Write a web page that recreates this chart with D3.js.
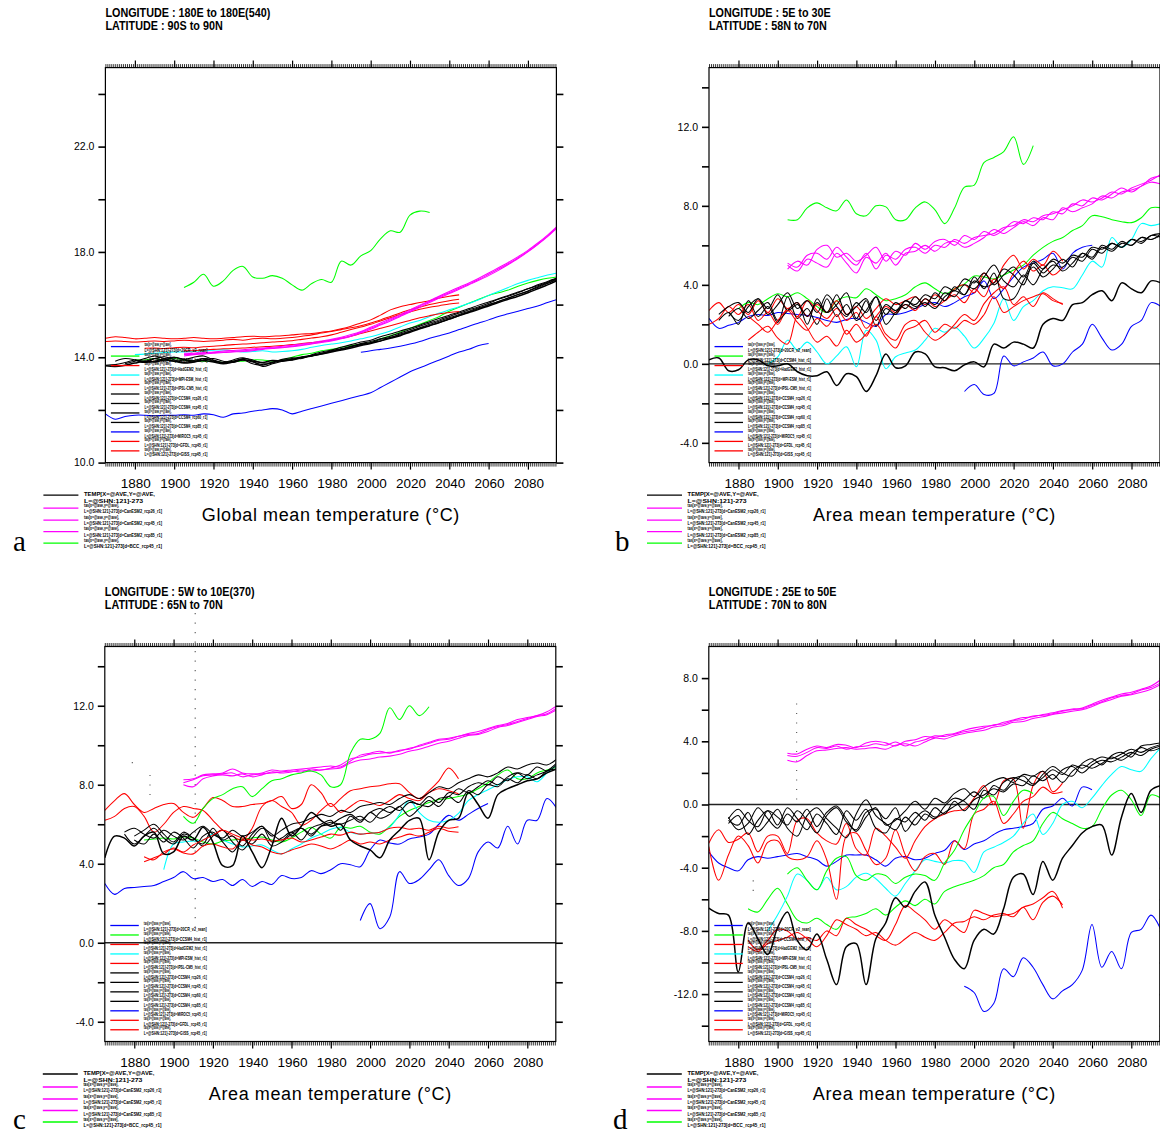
<!DOCTYPE html>
<html><head><meta charset="utf-8">
<script src="https://cdn.jsdelivr.net/npm/d3@7"></script>
<style>body{margin:0;background:#fff}svg{display:block}</style>
</head><body><svg id="chart" width="1160" height="1135"></svg>
<script>
// ---------- shared data ----------
const seriesColors = ["#0000ff","#00ff00","#ff0000","#00ffff","#ff0000","#000000","#000000","#000000","#000000","#0000ff","#ff0000","#ff0000","#000000","#ff00ff","#ff00ff","#ff00ff","#00ff00"];
const yearDomain = [1865, 2094.5];
const yearStep = 5;
const xTickLabels = [1880,1900,1920,1940,1960,1980,2000,2020,2040,2060,2080];
const legendLine1 = ["tas[x=@ave,y=@ave],","tas[x=@ave,y=@ave],","tas[x=@ave,y=@ave],","tas[x=@ave,y=@ave],","tas[x=@ave,y=@ave],","tas[x=@ave,y=@ave],","tas[x=@ave,y=@ave],","tas[x=@ave,y=@ave],","tas[x=@ave,y=@ave],","tas[x=@ave,y=@ave],","tas[x=@ave,y=@ave],","tas[x=@ave,y=@ave],","TEMP[X=@AVE,Y=@AVE,","tas[x=@ave,y=@ave],","tas[x=@ave,y=@ave],","tas[x=@ave,y=@ave],","tas[x=@ave,y=@ave],"];
const legendLine2 = ["L=@SHN:121]-273[d=20CR_v2_rean]","L=@SHN:121]-273[d=CCSM4_hist_r1]","L=@SHN:121]-273[d=HadGEM2_hist_r1]","L=@SHN:121]-273[d=MPI-ESM_hist_r1]","L=@SHN:121]-273[d=IPSL-CM5_hist_r1]","L=@SHN:121]-273[d=CCSM4_rcp26_r1]","L=@SHN:121]-273[d=CCSM4_rcp45_r1]","L=@SHN:121]-273[d=CCSM4_rcp60_r1]","L=@SHN:121]-273[d=CCSM4_rcp85_r1]","L=@SHN:121]-273[d=MIROC5_rcp45_r1]","L=@SHN:121]-273[d=GFDL_rcp45_r1]","L=@SHN:121]-273[d=GISS_rcp45_r1]","L=@SHN:121]-273","L=@SHN:121]-273[d=CanESM2_rcp26_r1]","L=@SHN:121]-273[d=CanESM2_rcp45_r1]","L=@SHN:121]-273[d=CanESM2_rcp85_r1]","L=@SHN:121]-273[d=BCC_rcp45_r1]"];

// ---------- panel a ----------
const aHeader = ["LONGITUDE : 180E to 180E(540)","LATITUDE : 90S to 90N"];
const aTitle = "Global mean temperature (°C)";
const aYDomain = [10,25];
const aYTicks = [10,12,14,16,18,20,22,24];
const aYLabels = [10,14,18,22];
const aStart = [1865,1880,1865,1880,1865,1865,1870,1875,1880,1995,1885,1905,1865,1905,1905,1905,1905];
const aS0 = [11.85,11.65,11.75,11.8,11.8,11.78,11.8,11.8,11.82,11.8, 11.85,11.82,11.72,11.85,11.88,11.95,12.0,12.05,12.0,11.85, 11.95,12.05,12.15,12.25,12.35,12.45,12.55,12.65,12.85,13.05, 13.25,13.45,13.6,13.75,13.9,14.05,14.2,14.3,14.45,14.52];
const aS1 = [13.9,13.9,13.95,13.9,13.95,13.9,13.85,13.85,13.85,13.8, 13.85,13.85,13.9,13.9,13.85,13.9,14.0,14.1,14.15,14.25, 14.3,14.38,14.45,14.5,14.55,14.7,14.82,14.95,15.1,15.25, 15.4,15.55,15.75,15.9,16.05,16.2,16.35,16.45,16.55,16.7, 16.82,16.92,17.0,17.05];
const aS2 = [14.72,14.78,14.75,14.7,14.72,14.75,14.72,14.7,14.72,14.75, 14.72,14.7,14.72,14.75,14.78,14.8,14.78,14.8,14.82,14.85, 14.88,14.9,14.95,15.0,15.08,15.18,15.3,15.42,15.6,15.8, 15.92,16.0,16.08,16.15,16.25,16.32,16.37];
const aS3 = [14.1,14.12,14.15,14.18,14.2,14.2,14.22,14.25,14.27,14.28, 14.25,14.2,14.22,14.25,14.2,14.22,14.25,14.3,14.38,14.45, 14.5,14.55,14.62,14.7,14.78,14.88,15.0,15.15,15.3,15.4, 15.55,15.68,15.8,15.92,16.05,16.18,16.35,16.5,16.65,16.8, 16.92,17.02,17.12,17.2];
const aS4 = [14.6,14.62,14.6,14.58,14.6,14.62,14.6,14.62,14.65,14.62, 14.6,14.62,14.65,14.68,14.65,14.7,14.72,14.7,14.72,14.75, 14.8,14.85,14.92,14.98,15.05,15.12,15.2,15.3,15.42,15.55, 15.68,15.8,15.9,16.0,16.08,16.15,16.2];
const aS5 = [13.7,13.72,13.8,13.9,13.85,13.95,13.9,14.0,13.92,13.85, 13.9,13.95,13.85,13.8,13.9,13.75,13.7,13.82,13.88,13.95, 14.02,14.08,14.15,14.25,14.33,14.42,14.5,14.55,14.68,14.75, 14.88,15.0,15.12,15.25,15.38,15.5,15.62,15.75,15.88,16.0, 16.12,16.25,16.38,16.5,16.65,16.8,16.95];
const aS6 = [13.85,13.95,13.9,13.8,13.95,14.02,13.9,13.8,13.88,13.95, 13.85,13.8,13.9,13.98,13.85,13.65,13.75,13.85,13.9,14.0, 14.05,14.15,14.25,14.3,14.4,14.52,14.6,14.7,14.8,14.92, 15.05,15.18,15.3,15.42,15.55,15.68,15.8,15.92,16.05,16.2, 16.32,16.45,16.6,16.72,16.85,17.0];
const aS7 = [13.75,13.85,13.95,14.05,13.95,13.85,13.9,14.0,14.05,13.9, 13.8,13.85,13.95,13.9,13.78,13.8,13.92,13.98,13.95,14.1, 14.2,14.28,14.38,14.48,14.58,14.65,14.78,14.88,15.0,15.1, 15.22,15.35,15.48,15.6,15.72,15.85,15.98,16.1,16.22,16.35, 16.48,16.6,16.75,16.88,17.02];
const aS8 = [13.9,13.8,13.85,13.95,14.0,13.9,13.82,13.95,13.88,13.78, 13.85,13.92,13.82,13.72,13.78,13.88,13.92,14.0,14.05,14.12, 14.22,14.3,14.4,14.48,14.55,14.62,14.75,14.85,14.98,15.1, 15.2,15.32,15.45,15.58,15.72,15.85,15.98,16.12,16.25,16.38, 16.52,16.68,16.82,16.98];
const aS9 = [14.19,14.25,14.3,14.35,14.42,14.5,14.6,14.72,14.82,14.92, 15.05,15.18,15.3,15.42,15.55,15.65,15.75,15.85,15.95,16.08, 16.2];
const aS10 = [14.34,14.35,14.33,14.36,14.38,14.36,14.4,14.42,14.45,14.48, 14.5,14.52,14.55,14.58,14.6,14.63,14.68,14.73,14.78,14.85, 14.95,15.05,15.15,15.25,15.38,15.5,15.62,15.72,15.82,15.9, 15.96,16.02,16.06];
const aS11 = [14.25,14.25,14.28,14.3,14.32,14.33,14.35,14.38,14.4,14.42, 14.45,14.48,14.52,14.56,14.6,14.65,14.72,14.8,14.9,15.0, 15.1,15.2,15.3,15.4,15.5,15.58,15.65,15.7,15.74];
const aS12 = [13.68,13.65,13.7,13.78,13.85,13.82,13.9,13.85,13.78,13.82, 13.88,13.82,13.75,13.82,13.9,13.85,13.8,13.88,13.85,13.9, 13.98,14.05,14.12,14.2,14.28,14.35,14.45,14.52,14.62,14.72, 14.82,14.95,15.08,15.2,15.32,15.45,15.58,15.7,15.82,15.95, 16.08,16.2,16.32,16.45,16.6,16.75,16.92];
const aS13 = [14.1,14.12,14.15,14.18,14.2,14.22,14.25,14.28,14.32,14.35, 14.38,14.42,14.47,14.52,14.58,14.65,14.72,14.82,14.95,15.1, 15.25,15.42,15.58,15.75,15.95,16.12,16.3,16.45,16.62,16.78, 16.95,17.15,17.35,17.55,17.78,18.02,18.3,18.6,18.95];
const aS14 = [14.05,14.1,14.12,14.15,14.18,14.2,14.22,14.25,14.3,14.33, 14.36,14.4,14.45,14.5,14.56,14.62,14.7,14.8,14.92,15.06, 15.22,15.38,15.55,15.72,15.9,16.08,16.25,16.42,16.58,16.75, 16.92,17.1,17.3,17.52,17.75,18.0,18.28,18.58,18.92];
const aS15 = [14.15,14.15,14.18,14.2,14.24,14.26,14.28,14.32,14.35,14.38, 14.42,14.46,14.5,14.55,14.62,14.68,14.76,14.86,14.98,15.14, 15.3,15.46,15.62,15.8,15.98,16.15,16.33,16.5,16.66,16.82, 17.0,17.2,17.4,17.6,17.82,18.06,18.34,18.64,18.98];
const aS16 = [16.65,16.85,17.15,16.7,16.9,17.3,17.45,17.05,17.0,17.1, 17.0,16.75,16.55,16.8,16.95,16.85,17.65,17.5,17.85,18.05, 18.5,18.8,18.75,19.4,19.55,19.5];

// ---------- panel b ----------
const bHeader = ["LONGITUDE : 5E to 30E","LATITUDE : 58N to 70N"];
const bTitle = "Area mean temperature (°C)";
const bYDomain = [-5,15];
const bYTicks = [-4,-2,0,2,4,6,8,10,12,14];
const bYLabels = [-4,0,4,8,12];
const bStart = [1865,1880,1865,1895,1865,1870,1870,1875,1875,1995,1885,1885,1865,1905,1905,1905,1905];
const bS0 = [2.3,1.8,1.95,2.1,2.4,2.5,2.45,2.6,2.55,2.5, 2.45,2.35,2.2,2.1,2.25,2.3,2.1,1.9,2.5,2.5, 2.6,2.8,3.0,3.1,2.9,3.1,3.4,3.6,4.2,3.3, 3.8,4.4,4.9,5.1,5.3,5.6,4.8,5.6,5.9,6.0];
const bS1 = [2.8,3.1,3.0,3.3,3.55,3.4,3.6,3.3,2.9,2.6, 3.2,3.4,3.35,3.8,3.5,3.2,3.3,3.5,3.9,4.1, 3.8,3.55,3.8,4.05,4.45,4.4,4.3,4.5,4.75,5.0, 5.5,5.9,6.2,6.4,6.75,7.0,7.5,7.45,7.3,7.2, 7.15,7.4,7.9,7.9];
const bS2 = [2.7,3.1,2.6,3.0,2.5,3.2,2.6,3.3,2.8,3.1, 2.4,3.0,2.6,3.2,2.5,2.9,2.3,2.8,3.3,3.0, 3.2,3.4,3.0,3.5,3.2,3.8,4.0,3.6,4.6,4.1, 5.0,5.5,4.8,5.3,5.0,5.7,5.2];
const bS3 = [0.0,0.35,1.2,0.7,1.1,0.6,0.0,0.4,0.86,-0.15, 1.7,1.2,-0.25,0.36,0.55,0.7,1.2,1.8,1.6,1.87, 1.4,0.8,1.3,2.06,3.3,2.2,2.9,3.2,3.7,3.9, 3.85,3.8,4.5,5.2,4.9,6.4,5.9,6.3,7.1,7.0, 7.1];
const bS4 = [2.0,2.3,2.9,2.5,3.0,2.2,2.6,2.0,2.8,2.4, 3.2,2.7,2.3,2.8,2.2,2.6,1.8,2.4,2.9,2.6, 3.0,2.7,3.3,2.9,3.2,3.5,3.1,3.8,3.4,4.3, 3.8,4.6,5.2,4.7,5.0,4.5,4.9];
const bS5 = [2.5,2.9,3.1,2.6,3.3,2.8,3.5,2.7,3.0,2.4, 3.1,2.6,3.5,2.5,2.9,3.3,2.2,3.0,2.7,3.2, 3.0,3.5,3.3,3.9,3.7,4.3,4.1,4.6,4.0,4.5, 4.9,4.4,5.2,4.8,5.3,5.1,5.5,5.4,5.9,5.8, 6.1,5.9,6.3,6.2,6.5,6.6];
const bS6 = [2.2,2.6,2.0,3.2,2.4,2.9,2.1,3.4,2.3,2.8, 2.0,3.3,2.4,3.0,2.2,2.7,3.4,2.5,3.1,2.8, 3.4,2.9,3.6,3.2,3.9,3.5,4.4,3.8,4.6,3.3, 3.3,4.2,4.9,4.4,4.8,5.3,4.9,5.6,5.3,5.9, 5.7,6.1,6.0,6.4,6.3,6.5];
const bS7 = [2.6,2.2,2.9,3.3,2.5,3.0,3.6,2.8,3.2,2.6, 3.5,2.9,2.4,3.1,2.6,3.4,2.0,2.6,3.0,2.8, 3.3,3.0,3.6,3.4,4.0,3.8,4.4,5.0,4.2,3.9, 4.5,4.0,4.8,5.2,4.7,5.1,5.6,5.4,6.0,5.8, 6.2,6.0,6.4,6.3,6.6];
const bS8 = [2.4,2.8,2.3,2.7,3.1,2.2,2.7,3.1,2.0,3.3, 2.6,3.0,3.6,2.3,3.2,1.9,2.8,2.5,3.2,2.9, 3.1,2.8,3.4,3.7,3.5,4.2,3.9,4.1,4.8,4.5, 4.0,5.1,4.6,5.0,4.9,5.4,5.2,5.8,5.6,6.1, 5.9,6.3,6.1,6.5,6.4];
const bS9 = [-1.4,-1.05,-1.55,-1.5,0.4,-0.1,0.1,0.3,0.6,-0.1, 0.0,0.6,1.0,2.0,1.3,0.7,1.0,1.9,2.2,3.1, 2.9];
const bS10 = [1.2,1.6,1.9,1.3,1.0,2.4,1.8,1.1,1.4,0.9, 1.7,1.1,1.5,2.0,1.3,0.8,1.7,1.9,2.2,1.6, 2.0,1.8,2.2,2.0,2.5,3.4,2.6,2.9,3.2,3.4, 3.55,3.2,3.05];
const bS11 = [2.4,2.0,1.6,2.2,2.7,2.1,1.7,2.3,1.9,2.5, 1.5,2.0,1.4,2.4,1.5,1.2,2.0,2.2,1.6,1.2, 1.5,2.0,2.5,2.2,3.05,3.6,3.9,3.0,3.4,2.9, 3.6,3.3,3.0];
const bS12 = [0.2,0.3,-0.35,-0.3,0.2,0.2,-0.1,-0.1,0.0,-0.4, -0.6,-0.6,-0.4,-1.1,-0.5,-0.65,-1.4,-0.6,0.5,-0.2, -0.1,0.6,0.5,-0.15,-0.2,-0.35,-0.05,0.1,-0.15,1.0, 0.8,1.1,1.0,0.8,2.0,2.3,2.2,3.0,3.1,3.5, 3.7,3.2,4.1,3.8,3.6,4.2,4.1];
const bS13 = [5.1,4.9,5.5,5.6,5.3,5.9,5.4,5.0,5.6,4.8, 5.5,5.3,5.8,5.9,5.6,6.0,5.9,6.3,6.1,6.4, 6.5,6.6,6.9,7.0,7.3,7.2,7.5,7.6,7.8,8.0, 8.3,8.2,8.4,8.7,8.6,8.9,9.1,9.3,9.6];
const bS14 = [4.8,5.2,5.0,5.8,6.0,5.4,5.6,5.2,5.5,5.9, 5.2,5.7,5.5,6.1,5.8,6.2,6.3,6.0,6.5,6.3, 6.7,6.5,6.8,7.2,7.1,7.4,7.3,7.7,7.6,8.1, 8.0,8.4,8.3,8.6,8.9,8.7,9.0,9.2,9.1];
const bS15 = [5.0,4.7,5.3,5.1,4.9,5.6,5.1,4.6,5.4,5.1, 5.6,5.0,5.6,5.7,6.0,5.7,6.1,6.2,5.9,6.1, 6.4,6.8,6.6,6.9,7.2,7.0,7.4,7.3,7.9,7.7, 7.9,8.1,8.5,8.4,8.7,8.8,9.0,9.4,9.5];
const bS16 = [7.3,7.3,7.9,8.15,7.9,7.75,8.3,7.6,7.5,8.0, 7.95,7.3,7.3,7.9,8.2,7.8,7.1,7.9,8.95,9.05, 10.2,10.45,10.75,11.5,10.1,11.05];

// ---------- panel c ----------
const cHeader = ["LONGITUDE : 5W to 10E(370)","LATITUDE : 65N to 70N"];
const cTitle = "Area mean temperature (°C)";
const cYDomain = [-5,15];
const cYTicks = [-4,-2,0,2,4,6,8,10,12,14];
const cYLabels = [-4,0,4,8,12];
const cStart = [1865,1885,1865,1895,1865,1875,1875,1880,1880,1995,1885,1885,1865,1905,1905,1905,1905];
const cS0 = [3.0,2.45,2.75,2.8,2.85,2.9,3.1,3.3,3.6,3.25, 3.3,3.1,3.2,2.9,3.2,2.85,3.1,2.95,3.4,3.25, 3.3,3.65,3.5,3.7,4.0,3.95,3.85,4.7,5.2,5.05, 5.0,5.25,5.35,5.5,6.0,6.45,6.2,6.5,6.8,7.05];
const cS1 = [5.2,5.25,5.3,5.25,5.35,5.3,5.1,5.0,5.15,5.2, 5.25,5.3,5.35,5.2,5.1,5.3,5.6,5.85,5.5,5.3, 5.85,5.8,5.9,5.6,5.5,5.9,6.4,6.7,6.9,7.1, 7.25,7.3,7.4,7.55,7.8,8.1,8.5,8.75,8.3,8.3, 8.6,8.75,8.9];
const cS2 = [6.7,7.2,7.55,7.0,6.6,6.8,7.0,7.05,6.6,6.35, 6.8,7.35,7.2,6.9,6.9,7.0,7.05,7.2,7.4,6.8, 7.0,8.0,7.6,6.9,7.3,7.7,7.8,7.9,7.95,8.05, 8.05,7.6,7.3,7.7,8.2,8.85,8.3];
const cS3 = [3.7,5.0,5.1,5.15,5.2,5.5,5.2,5.0,4.85,4.9, 4.95,4.7,4.5,4.75,5.0,5.3,5.5,5.75,5.85,5.6, 5.5,5.55,5.6,5.85,6.5,7.2,6.6,6.2,6.1,6.2, 6.55,7.2,7.5,7.75,8.0,8.25,8.4,8.4,8.15,8.6, 9.0];
const cS4 = [6.2,6.4,6.8,6.9,6.4,5.6,6.0,6.6,6.9,6.8, 6.7,6.2,5.7,5.4,5.2,5.8,6.9,7.2,6.9,6.6, 5.95,6.2,6.7,7.05,6.6,6.9,7.2,7.1,6.95,7.2, 7.5,7.3,7.2,7.6,7.8,7.7,7.55];
const cS5 = [5.6,5.8,5.5,5.3,5.7,5.4,5.2,5.6,5.9,5.5, 5.3,5.7,5.4,5.6,5.9,5.4,5.7,6.0,6.1,6.3, 6.5,6.4,6.7,6.6,6.9,7.0,7.1,7.0,7.3,7.5, 7.3,7.6,7.9,7.8,8.1,8.3,8.5,8.4,8.6,8.9, 8.8,9.0,9.1,9.0,9.3];
const cS6 = [5.5,5.0,5.4,5.8,5.3,5.0,5.5,5.3,4.9,5.4, 5.7,5.1,4.7,5.3,5.8,5.5,5.2,5.6,5.8,5.5, 5.9,6.0,6.3,6.5,6.2,6.6,6.8,6.6,6.9,7.2, 7.0,7.4,7.1,7.6,7.5,7.9,8.1,8.0,8.4,8.2, 8.6,8.5,8.9,8.7,9.0];
const cS7 = [5.4,5.7,6.0,5.5,5.1,5.6,5.3,5.0,5.8,5.2, 5.4,4.9,5.5,5.9,5.1,5.3,5.6,5.2,5.8,6.0, 6.2,5.7,6.4,6.1,6.6,6.3,6.5,6.9,6.4,6.8, 7.2,6.9,7.4,7.1,7.7,7.5,8.0,7.9,8.3,8.1, 8.5,8.3,8.7,8.8];
const cS8 = [5.2,5.0,5.5,5.1,5.6,5.3,4.8,5.4,5.6,5.1, 4.6,5.2,5.0,5.5,4.9,5.1,5.5,5.8,5.4,5.9, 6.1,6.0,6.2,6.4,6.1,6.6,6.9,6.7,7.1,7.0, 6.9,7.3,7.4,7.8,7.6,7.9,8.2,8.0,8.4,8.6, 8.3,8.5,8.7,9.1];
const cS9 = [1.13,1.98,0.71,1.3,3.6,3.0,3.2,3.7,4.2,3.4, 2.9,3.25,4.6,5.1,4.8,5.9,5.0,6.2,6.2,7.3, 6.8];
const cS10 = [4.35,4.2,4.6,4.75,4.55,4.5,4.9,5.0,4.85,4.75, 5.2,4.95,4.85,4.6,4.5,4.7,4.85,5.0,4.9,4.75, 4.95,5.2,5.0,5.1,5.0,5.2,5.35,5.5,5.4,5.6, 5.8,5.65,5.6];
const cS11 = [4.1,4.3,4.5,4.8,4.6,4.95,5.2,5.45,5.7,5.5, 5.3,5.2,5.25,5.15,5.2,5.3,5.1,5.2,5.35,5.5, 5.45,5.6,5.5,5.55,5.6,5.8,5.85,5.75,5.8,5.7, 5.9,5.8,5.87];
const cS12 = [4.3,5.4,5.3,4.9,5.4,5.6,4.5,4.6,5.4,5.2, 5.85,5.1,3.9,3.9,5.4,4.6,3.8,4.9,6.3,5.4, 5.9,6.6,6.2,5.9,6.0,5.2,4.9,4.7,4.3,5.2, 5.7,6.2,6.3,4.2,5.6,6.2,6.3,7.6,7.0,6.3, 7.5,7.8,8.0,8.2,8.3,8.6,8.8];
const cS13 = [8.25,8.3,8.5,8.55,8.6,8.8,8.6,8.55,8.6,8.75, 8.7,8.75,8.8,8.85,8.9,8.95,8.9,9.2,9.5,9.6, 9.7,9.6,9.75,9.8,10.0,10.15,10.3,10.35,10.45,10.6, 10.7,10.85,11.0,11.1,11.3,11.4,11.5,11.7,12.0];
const cS14 = [8.1,8.25,8.45,8.5,8.55,8.6,8.4,8.5,8.55,8.6, 8.65,8.7,8.65,8.8,8.75,8.85,9.0,9.3,9.4,9.55, 9.6,9.65,9.7,9.85,9.95,10.1,10.25,10.3,10.45,10.55, 10.6,10.8,10.95,11.05,11.2,11.35,11.5,11.6,11.9];
const cS15 = [8.0,7.9,8.3,8.45,8.5,8.45,8.55,8.4,8.5,8.65, 8.6,8.65,8.75,8.7,8.75,8.8,8.85,9.1,9.25,9.3, 9.4,9.45,9.55,9.7,9.8,9.95,10.1,10.2,10.35,10.5, 10.55,10.7,10.9,11.0,11.15,11.3,11.45,11.55,11.8];
const cS16 = [6.4,6.05,6.8,7.3,7.5,7.8,7.9,7.4,7.8,8.2, 8.3,8.5,8.6,8.7,8.5,7.9,8.0,9.6,10.3,10.3, 10.6,11.9,11.3,12.0,11.5,11.95];
const cDots = [[1911,16.7,0.8],[1888,8.5,7.2],[1879,9.15,9.0]];

// ---------- panel d ----------
const dHeader = ["LONGITUDE : 25E to 50E","LATITUDE : 70N to 80N"];
const dTitle = "Area mean temperature (°C)";
const dYDomain = [-15,10];
const dYTicks = [-14,-12,-10,-8,-6,-4,-2,0,2,4,6,8];
const dYLabels = [-12,-8,-4,0,4,8];
const dStart = [1865,1885,1865,1895,1865,1875,1875,1875,1875,1995,1885,1885,1865,1905,1905,1905,1905];
const dS0 = [-3.0,-3.7,-4.0,-4.2,-3.5,-3.3,-3.4,-3.3,-3.2,-3.1, -3.3,-3.5,-3.9,-3.6,-3.2,-3.2,-3.2,-3.5,-3.9,-3.4, -3.3,-3.5,-3.4,-3.1,-2.9,-2.3,-2.85,-2.5,-2.3,-1.9, -1.6,-1.5,-1.4,-1.2,-0.3,-0.1,0.4,-0.1,1.1,0.93];
const dS1 = [-6.6,-6.8,-6.0,-5.3,-6.3,-7.3,-7.5,-7.2,-7.6,-7.9, -7.2,-7.1,-6.9,-6.6,-7.0,-6.5,-6.1,-6.4,-6.0,-6.3, -5.5,-5.2,-5.0,-4.8,-4.5,-4.0,-3.8,-3.0,-2.6,-2.3, -1.2,-0.5,-0.9,-1.2,-1.5,-1.4,-0.3,0.6,0.9,0.3, -0.7,0.6,0.4];
const dS2 = [-2.45,-1.6,-2.4,-2.2,-1.8,-3.0,-2.0,-2.0,-3.1,-1.0, -0.9,-1.8,-2.3,-2.5,-1.2,-2.8,-3.2,-1.5,-2.0,-2.7, -3.4,-2.3,-1.4,-0.9,-0.6,-0.4,-0.3,0.4,1.2,0.0, 1.5,1.6,-1.5,1.2,2.1,0.8,1.35];
const dS3 = [-8.0,-7.0,-5.8,-4.4,-4.8,-5.4,-4.6,-5.4,-5.2,-4.6, -4.35,-4.7,-5.3,-5.8,-5.0,-4.2,-3.5,-3.6,-3.7,-3.55, -3.6,-4.3,-3.0,-2.7,-2.4,-2.0,-1.2,-0.6,-1.9,-1.2, 0.0,0.2,-0.2,0.4,1.2,1.9,2.4,2.2,2.1,2.9, 3.6];
const dS4 = [-2.66,-4.8,-3.2,-2.0,-2.6,-3.7,-2.4,-2.3,-3.3,-3.5, -3.3,-2.3,-3.5,-6.0,-2.0,-1.8,-2.9,-3.8,-3.4,-1.6, -3.2,-4.2,-3.3,-3.1,-3.8,-2.3,-2.8,-0.6,-0.3,0.2, -1.2,-0.6,0.2,0.5,1.1,0.7,0.8];
const dS5 = [-0.8,-1.6,-1.2,-0.2,-0.9,-1.5,-0.6,-1.1,-0.3,-1.4, -0.5,-0.1,-0.9,-1.7,-0.8,-0.2,-1.3,-1.0,-0.4,0.2, -0.3,0.4,0.1,0.7,1.0,0.5,1.1,1.5,1.7,1.4, 1.9,1.8,2.1,1.6,2.2,2.4,2.0,2.5,2.8,2.7, 3.0,3.3,3.1,3.5,3.7];
const dS6 = [-1.2,-0.7,-1.9,-1.0,-0.4,-1.3,-0.2,-0.9,-1.6,-0.6, -1.2,-1.9,-0.4,-1.0,-0.3,-1.5,-1.8,-0.9,-1.1,-0.5, -1.0,-0.2,-0.6,0.2,-0.4,0.3,0.6,1.0,0.8,1.3, 1.2,1.8,1.5,1.9,1.4,2.1,2.5,2.3,2.6,3.0, 2.8,3.2,3.6,3.4,3.6];
const dS7 = [-1.0,-1.3,-0.5,-1.7,-1.1,-0.3,-1.5,-2.0,-0.7,-0.2, -0.9,-1.5,-2.1,-0.6,0.3,-0.7,-1.2,-1.6,-0.8,-1.3, -0.6,-0.9,-0.1,0.4,0.2,-0.3,0.9,0.6,1.4,1.7, 1.5,1.2,1.9,2.4,2.0,1.8,2.6,2.9,2.5,3.1, 3.3,3.0,3.7,3.8,3.9];
const dS8 = [-0.9,-0.3,-1.0,-1.4,-0.4,-0.8,-1.3,-0.4,-1.0,-1.8, -0.7,-0.2,-1.1,-1.6,-0.5,-0.3,-0.9,-0.2,-1.7,-0.9, -0.4,-0.8,-0.5,-0.1,0.3,0.8,0.4,1.2,0.9,1.6, 1.8,1.3,1.7,2.2,1.9,2.5,2.3,2.7,3.0,2.9, 3.2,3.5,3.3,3.6,3.8];
const dS9 = [-11.5,-11.9,-13.1,-12.6,-10.4,-10.9,-9.7,-10.3,-11.4,-12.3, -11.8,-11.4,-10.5,-7.6,-10.3,-9.3,-10.4,-8.1,-7.9,-7.0, -7.9];
const dS10 = [-8.6,-9.2,-8.6,-7.9,-8.0,-8.5,-8.4,-8.6,-8.0,-8.3, -7.2,-7.6,-7.9,-8.3,-8.6,-7.6,-6.4,-6.8,-7.3,-7.9, -7.3,-7.7,-8.1,-6.7,-6.9,-7.1,-7.0,-6.9,-6.5,-6.3, -5.9,-5.5,-6.56];
const dS11 = [-9.0,-9.3,-8.8,-8.6,-8.4,-8.1,-8.5,-9.0,-8.3,-7.3, -7.6,-7.9,-8.3,-8.1,-8.6,-8.9,-8.5,-8.1,-8.4,-8.6, -8.1,-7.5,-7.4,-7.1,-7.3,-7.0,-6.9,-7.1,-6.5,-7.3, -6.2,-5.8,-6.35];
const dS12 = [-6.56,-6.9,-7.0,-10.6,-7.5,-8.5,-9.5,-7.8,-6.8,-8.6, -9.2,-8.2,-9.8,-11.4,-9.0,-8.8,-11.4,-8.5,-7.5,-5.9, -6.5,-5.5,-4.9,-7.0,-8.4,-9.8,-10.4,-8.6,-7.9,-8.2, -6.6,-4.6,-4.4,-5.7,-3.6,-4.8,-3.4,-2.6,-1.8,-1.4, -1.3,-3.2,-0.8,0.7,-0.5,0.9,1.2];
const dS13 = [3.25,3.2,3.5,3.7,3.6,3.8,3.75,3.6,3.9,4.0, 3.9,3.7,4.0,4.1,4.3,4.25,4.4,4.5,4.7,4.85, 4.95,5.0,5.2,5.35,5.5,5.55,5.7,5.8,5.95,6.0, 6.1,6.35,6.6,6.8,7.0,7.1,7.3,7.5,7.9];
const dS14 = [3.1,3.05,3.3,3.6,3.55,3.7,3.5,3.65,3.7,3.85, 3.75,3.95,3.7,3.95,4.1,4.35,4.3,4.45,4.6,4.7, 4.85,5.05,5.1,5.3,5.4,5.6,5.65,5.75,5.9,6.05, 6.05,6.3,6.5,6.75,6.9,7.0,7.25,7.4,7.7];
const dS15 = [2.8,2.7,3.1,3.4,3.45,3.55,3.6,3.5,3.55,3.6, 3.5,3.75,3.85,3.7,3.95,4.2,4.15,4.35,4.5,4.6, 4.7,4.9,5.0,5.2,5.25,5.45,5.55,5.7,5.8,5.9, 6.0,6.2,6.45,6.65,6.85,6.95,7.1,7.3,7.6];
const dS16 = [-4.4,-4.0,-4.8,-5.4,-4.2,-3.4,-3.3,-4.5,-4.8,-4.4, -4.5,-5.0,-4.6,-4.4,-4.5,-4.8,-3.7,-2.9,-1.6,-0.6, 0.4,0.5,-0.7,0.2,0.9,0.7];
const dDots = [[1909.7,6.4,0.3],[1887.6,-4.8,-5.6]];

// ---------- drawing ----------
const svg = d3.select("#chart");
const PW = 451, PH = 395;
const panels = [
  {id:"a", left:105.4, top:67.6, header:aHeader, title:aTitle, yDomain:aYDomain, yTicks:aYTicks, yLabels:aYLabels, starts:aStart,
   series:[aS0,aS1,aS2,aS3,aS4,aS5,aS6,aS7,aS8,aS9,aS10,aS11,aS12,aS13,aS14,aS15,aS16], dots:[], letterX:13, letterY:551, zero:false},
  {id:"b", left:709, top:67.6, header:bHeader, title:bTitle, yDomain:bYDomain, yTicks:bYTicks, yLabels:bYLabels, starts:bStart,
   series:[bS0,bS1,bS2,bS3,bS4,bS5,bS6,bS7,bS8,bS9,bS10,bS11,bS12,bS13,bS14,bS15,bS16], dots:[], letterX:615, letterY:551, zero:true},
  {id:"c", left:104.8, top:646.5, header:cHeader, title:cTitle, yDomain:cYDomain, yTicks:cYTicks, yLabels:cYLabels, starts:cStart,
   series:[cS0,cS1,cS2,cS3,cS4,cS5,cS6,cS7,cS8,cS9,cS10,cS11,cS12,cS13,cS14,cS15,cS16], dots:cDots, letterX:13, letterY:1128.5, zero:true},
  {id:"d", left:708.8, top:646.5, header:dHeader, title:dTitle, yDomain:dYDomain, yTicks:dYTicks, yLabels:dYLabels, starts:dStart,
   series:[dS0,dS1,dS2,dS3,dS4,dS5,dS6,dS7,dS8,dS9,dS10,dS11,dS12,dS13,dS14,dS15,dS16], dots:dDots, letterX:613, letterY:1128.5, zero:true}
];
const outerOffsets = [32.5, 45.5, 57.5, 69, 80.5];
const minorYears = d3.range(yearDomain[0], 2095, 1);

panels.forEach(p => {
  const g = svg.append("g");
  const x = d3.scaleLinear().domain(yearDomain).range([p.left, p.left + PW]);
  const y = d3.scaleLinear().domain(p.yDomain).range([p.top + PH, p.top]);
  const clipId = "clip-" + p.id;
  svg.append("clipPath").attr("id", clipId).append("rect")
    .attr("x", p.left).attr("y", p.top).attr("width", PW).attr("height", PH);

  // header (condensed bold)
  p.header.forEach((t, i) => {
    g.append("text").attr("transform", `translate(${p.left},${p.top - 50.3 + i * 12.7}) scale(0.9,1)`)
      .attr("font-family", "'Liberation Sans Narrow','Arial Narrow','Liberation Sans',sans-serif")
      .attr("font-weight", "bold").attr("font-size", 12).attr("fill", "#000").text(t);
  });

  // zero line
  if (p.zero) {
    g.append("line").attr("x1", x(yearDomain[0])).attr("x2", x(yearDomain[1]))
      .attr("y1", y(0)).attr("y2", y(0)).attr("stroke", "#222").attr("stroke-width", 1.3);
  }

  // dotted marks
  p.dots.forEach(dd => {
    g.append("line").attr("x1", x(dd[0])).attr("x2", x(dd[0]))
      .attr("y1", y(dd[1])).attr("y2", y(dd[2]))
      .attr("stroke", "#555").attr("stroke-width", 1.1).attr("stroke-dasharray", "1.2,8.3");
  });

  // series lines
  const line = d3.line().x(d => x(d[0])).y(d => y(d[1])).curve(d3.curveCatmullRom.alpha(0.5));
  const lg = g.append("g").attr("clip-path", `url(#${clipId})`);
  p.series.forEach((vals, i) => {
    const pts = vals.map((v, k) => [p.starts[i] + yearStep * k, v]);
    lg.append("path").attr("d", line(pts)).attr("fill", "none")
      .attr("stroke", seriesColors[i]).attr("stroke-width", i === 12 ? 1.5 : 1.05)
      .attr("stroke-linejoin", "round");
  });

  // inside legend (series 0..11)
  for (let i = 0; i < 12; i++) {
    const ly = p.top + 279 + i * 9.48;
    g.append("line").attr("x1", p.left + 5.5).attr("x2", p.left + 34).attr("y1", ly).attr("y2", ly)
      .attr("stroke", seriesColors[i]).attr("stroke-width", 1.3);
    g.append("text").attr("x", p.left + 39).attr("y", ly - 0.3)
      .attr("font-family", "'Liberation Sans Narrow',sans-serif").attr("font-weight", "bold")
      .attr("font-size", 4.6).attr("textLength", 27).attr("lengthAdjust", "spacingAndGlyphs").text(legendLine1[i]);
    g.append("text").attr("x", p.left + 39).attr("y", ly + 5.6)
      .attr("font-family", "'Liberation Sans Narrow',sans-serif").attr("font-weight", "bold")
      .attr("font-size", 4.6).attr("textLength", 63).attr("lengthAdjust", "spacingAndGlyphs").text(legendLine2[i]);
  }
  // outer legend (series 12..16)
  for (let j = 0; j < 5; j++) {
    const i = 12 + j;
    const ly = p.top + PH + outerOffsets[j];
    g.append("line").attr("x1", p.left - 62).attr("x2", p.left - 27).attr("y1", ly).attr("y2", ly)
      .attr("stroke", seriesColors[i]).attr("stroke-width", 1.3);
    const big = j === 0;
    g.append("text").attr("x", p.left - 21.4).attr("y", ly + (big ? 0.6 : -1.2))
      .attr("font-family", "'Liberation Sans Narrow',sans-serif").attr("font-weight", "bold")
      .attr("font-size", big ? 6.2 : 4.6).attr("textLength", big ? 71 : 35).attr("lengthAdjust", "spacingAndGlyphs").text(legendLine1[i]);
    g.append("text").attr("x", p.left - 21.4).attr("y", ly + (big ? 8 : 5))
      .attr("font-family", "'Liberation Sans Narrow',sans-serif").attr("font-weight", "bold")
      .attr("font-size", big ? 6.2 : 4.6).attr("textLength", big ? 59 : 78).attr("lengthAdjust", "spacingAndGlyphs").text(legendLine2[i]);
  }

  // axes: top & bottom year ticks
  const topMinor = g.append("g").attr("transform", `translate(0,${p.top})`)
    .call(d3.axisTop(x).tickValues(minorYears).tickSize(3.5).tickFormat(""));
  const topMajor = g.append("g").attr("transform", `translate(0,${p.top})`)
    .call(d3.axisTop(x).tickValues(xTickLabels).tickSize(7).tickFormat(""));
  const botMinor = g.append("g").attr("transform", `translate(0,${p.top + PH})`)
    .call(d3.axisBottom(x).tickValues(minorYears).tickSize(4).tickFormat(""));
  const botMajor = g.append("g").attr("transform", `translate(0,${p.top + PH})`)
    .call(d3.axisBottom(x).tickValues(xTickLabels).tickSize(7).tickFormat(""));
  const leftAx = g.append("g").attr("transform", `translate(${p.left},0)`)
    .call(d3.axisLeft(y).tickValues(p.yTicks).tickSize(7).tickFormat(""));
  const rightAx = g.append("g").attr("transform", `translate(${p.left + PW},0)`)
    .call(d3.axisRight(y).tickValues(p.yTicks).tickSize(7).tickFormat(""));
  [topMinor, botMinor].forEach(a => { a.select(".domain").remove(); a.selectAll("line").attr("stroke-width", 0.8); });
  [topMajor, botMajor].forEach(a => { a.select(".domain").remove(); a.selectAll("line").attr("stroke-width", 1.2); });
  [leftAx, rightAx].forEach(a => { a.select(".domain").remove(); a.selectAll("line").attr("stroke-width", 1.6); });

  // border
  g.append("rect").attr("x", p.left).attr("y", p.top).attr("width", PW).attr("height", PH)
    .attr("fill", "none").attr("stroke", "#000").attr("stroke-width", 1.2);

  // year labels
  xTickLabels.forEach(yr => {
    g.append("text").attr("x", x(yr) + 1).attr("y", p.top + PH + 25)
      .attr("text-anchor", "middle").attr("font-family", "'Liberation Sans',Arial,sans-serif")
      .attr("font-size", 13.5).attr("fill", "#000").text(yr);
  });
  // y labels
  p.yLabels.forEach(v => {
    g.append("text").attr("x", p.left - 11).attr("y", y(v) + 3.8)
      .attr("text-anchor", "end").attr("font-family", "'Liberation Sans',Arial,sans-serif")
      .attr("font-size", 10.5).attr("fill", "#000").text(v.toFixed(1));
  });
  // x title
  g.append("text").attr("x", p.left + PW / 2).attr("y", p.top + PH + 58.5)
    .attr("text-anchor", "middle").attr("font-family", "'Liberation Sans',Arial,sans-serif")
    .attr("font-size", 18).attr("letter-spacing", 0.6).attr("fill", "#000").text(p.title);
  // panel letter
  g.append("text").attr("x", p.letterX).attr("y", p.letterY)
    .attr("font-family", "'Liberation Serif','Times New Roman',serif")
    .attr("font-size", 29).attr("fill", "#000").text(p.id);
});
</script></body></html>
